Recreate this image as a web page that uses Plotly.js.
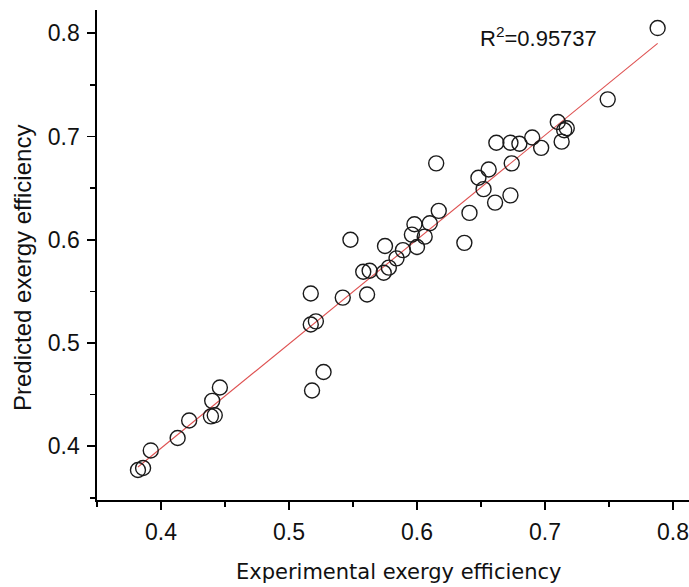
<!DOCTYPE html>
<html>
<head>
<meta charset="utf-8">
<script src="https://cdn.plot.ly/plotly-3.0.1.min.js"></script>
<style>html,body{margin:0;padding:0;background:#fff;}#chart{width:689px;height:587px;}</style>
</head>
<body>
<div id="chart"></div>
<script>
// Experimental vs predicted exergy efficiency
var experimental = [0.382, 0.386, 0.392, 0.413, 0.422, 0.439, 0.442, 0.440, 0.446,
  0.517, 0.542, 0.561, 0.517, 0.521, 0.527, 0.518,
  0.548, 0.558, 0.563, 0.574, 0.578, 0.575, 0.584, 0.589, 0.598, 0.596, 0.600, 0.606, 0.610, 0.617,
  0.615, 0.641, 0.637, 0.648, 0.656, 0.652, 0.661, 0.673, 0.674,
  0.662, 0.673, 0.680, 0.690, 0.697, 0.710, 0.717, 0.715, 0.713,
  0.749, 0.788];
var predicted = [0.377, 0.379, 0.396, 0.408, 0.425, 0.429, 0.430, 0.444, 0.457,
  0.548, 0.544, 0.547, 0.518, 0.521, 0.472, 0.454,
  0.600, 0.569, 0.570, 0.568, 0.573, 0.594, 0.582, 0.590, 0.615, 0.605, 0.593, 0.603, 0.616, 0.628,
  0.674, 0.626, 0.597, 0.660, 0.668, 0.649, 0.636, 0.643, 0.674,
  0.694, 0.694, 0.693, 0.699, 0.689, 0.714, 0.708, 0.706, 0.695,
  0.736, 0.805];
var r2Label = "R<sup>2</sup>=0.95737";
var xTitle = "Experimental exergy efficiency";
var yTitle = "Predicted exergy efficiency";
var tickValues = [0.4, 0.5, 0.6, 0.7, 0.8];
var tickLabels = ["0.4", "0.5", "0.6", "0.7", "0.8"];

// least-squares fit of predicted on experimental
var n = experimental.length, sx = 0, sy = 0, sxx = 0, sxy = 0;
for (var i = 0; i < n; i++) { sx += experimental[i]; sy += predicted[i]; sxx += experimental[i]*experimental[i]; sxy += experimental[i]*predicted[i]; }
var slope = (n*sxy - sx*sy) / (n*sxx - sx*sx);
var intercept = (sy - slope*sx) / n;
var xmin = Math.min.apply(null, experimental), xmax = Math.max.apply(null, experimental);
var fitX = [xmin, xmax];
var fitY = fitX.map(function (v) { return intercept + slope*v; });

var tickFont = {family: "Liberation Sans, Arial, sans-serif", size: 23, color: "#111"};

var traces = [
  {x: fitX, y: fitY, mode: "lines", type: "scatter", line: {color: "rgb(222,80,80)", width: 1.1}, hoverinfo: "skip"},
  {x: experimental, y: predicted, mode: "markers", type: "scatter",
   marker: {symbol: "circle-open", size: 15, color: "#1a1a1a", line: {width: 1.4, color: "#1a1a1a"}}}
];

var axisCommon = {
  showgrid: false, zeroline: false, showline: true, linecolor: "#000", linewidth: 1.6,
  ticks: "outside", ticklen: 8, tickwidth: 1.6, tickcolor: "#000",
  tickvals: tickValues, ticktext: tickLabels, tickfont: tickFont,
  minor: {dtick: 0.05, tick0: 0.35, ticks: "outside", ticklen: 5, tickwidth: 1.6, tickcolor: "#000", showgrid: false},
  automargin: false
};

var layout = {
  width: 689, height: 587,
  margin: {l: 97, r: 0, t: 10, b: 87},
  paper_bgcolor: "#fff", plot_bgcolor: "#fff",
  showlegend: false,
  xaxis: Object.assign({}, axisCommon, {range: [0.35, 0.8125], ticklabelstandoff: 3}),
  yaxis: Object.assign({}, axisCommon, {range: [0.348, 0.8225], ticklabelstandoff: 3}),
  annotations: [
    {text: r2Label, xref: "paper", yref: "paper", x: 0.6436, y: 0.945, xanchor: "left", yanchor: "middle",
     showarrow: false, font: {family: "Liberation Sans, Arial, sans-serif", size: 22, color: "#111"}},
    {text: xTitle, xref: "paper", yref: "paper", x: 0.51, y: -0.147, xanchor: "center", yanchor: "middle",
     showarrow: false, font: {family: "DejaVu Sans, Verdana, sans-serif", size: 21, color: "#111"}},
    {text: yTitle, xref: "paper", yref: "paper", x: -0.125, y: 0.4735, xanchor: "center", yanchor: "middle",
     textangle: -90, showarrow: false, font: {family: "Liberation Sans, Arial, sans-serif", size: 24, color: "#111"}}
  ]
};

Plotly.newPlot("chart", traces, layout, {displayModeBar: false, staticPlot: true});
</script>
</body>
</html>
